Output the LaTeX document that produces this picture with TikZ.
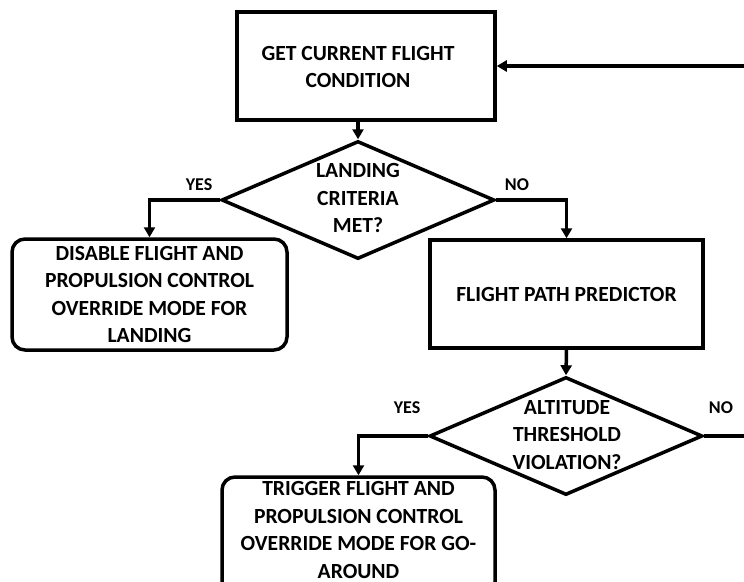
\documentclass[tikz,border=0pt]{standalone}
\usepackage{fontspec}
\setmainfont{Carlito}
\usetikzlibrary{arrows.meta,shapes.geometric}
\begin{document}
\begin{tikzpicture}[x=1pt,y=-1pt,
  every node/.style={font=\bfseries\fontsize{21.6}{27.5}\selectfont, align=center, inner sep=0pt},
  box/.style={draw, line width=3.5pt, rectangle},
  rbox/.style={draw, line width=3.5pt, rectangle, rounded corners=13pt},
  dia/.style={draw, line width=3.5pt, diamond, minimum width=273pt, minimum height=118pt},
  conn/.style={line width=3.5pt, -{Triangle[length=10pt,width=11pt]}},
  plain/.style={line width=3.5pt},
  lbl/.style={font=\bfseries\fontsize{18}{20}\selectfont}]
\useasboundingbox (0,0) rectangle (744,581);
\clip (0,0) rectangle (744,581);
\fill[white] (0,0) rectangle (744,581);

% top box
\node[box, minimum width=258pt, minimum height=108pt] (get) at (366,66) {};
\node (gettxt) at (358,67) {GET CURRENT FLIGHT\\CONDITION};
\coordinate (entry) at (748,66);
\draw[conn] (entry) -- (get.east);

% diamond 1
\node[dia] (d1) at (358,200) {};
\node (d1txt) at (358,198) {LANDING\\CRITERIA\\MET?};
\draw[conn] (gettxt |- get.south) -- (d1.north);

% disable box
\node[rbox, minimum width=275pt, minimum height=111pt] (dis) at (149.5,294.5) {DISABLE FLIGHT AND\\PROPULSION CONTROL\\OVERRIDE MODE FOR\\LANDING};
\draw[conn] (d1.west) -| (dis.north);
\node[lbl] (yes1) at (199,185) {YES};

% predictor box
\node[box, minimum width=273pt, minimum height=108pt] (fpp) at (566.5,294) {FLIGHT PATH PREDICTOR};
\draw[conn] (d1.east) -| (fpp.north);
\node[lbl] (no1) at (517,185) {NO};

% diamond 2
\node[dia] (d2) at (566,436) {};
\node (d2txt) at (567,435) {ALTITUDE\\THRESHOLD\\VIOLATION?};
\draw[conn] (fpp.south) -- (d2.north);
\node[lbl] (yes2) at (407,408) {YES};
\node[lbl] (no2) at (721,408) {NO};
\coordinate (exit) at (748,436);
\draw[plain] (d2.east) -- (exit);

% trigger box
\node[rbox, minimum width=273pt, minimum height=118pt] (trig) at (358.5,536) {};
\node (trigtxt) at (358.5,530) {TRIGGER FLIGHT AND\\PROPULSION CONTROL\\OVERRIDE MODE FOR GO-\\AROUND};
\draw[conn] (d2.west) -| (trig.north);
\end{tikzpicture}
\end{document}
